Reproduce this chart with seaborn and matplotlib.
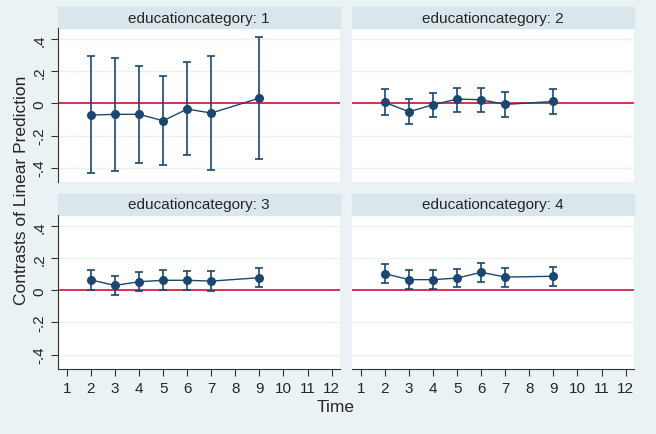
import seaborn as sns
import matplotlib.pyplot as plt
import matplotlib.patches as mpatches
import pandas as pd

# valores (contrastes e IC 95%)
times = [2, 3, 4, 5, 6, 7, 9]
categories = [1, 2, 3, 4]

est1 = [-0.073, -0.068, -0.068, -0.108, -0.035, -0.060, 0.033]
lo1 = [-0.435, -0.419, -0.369, -0.385, -0.323, -0.412, -0.348]
hi1 = [0.294, 0.284, 0.234, 0.172, 0.257, 0.294, 0.412]

est2 = [0.006, -0.052, -0.008, 0.027, 0.023, -0.006, 0.012]
lo2 = [-0.075, -0.131, -0.087, -0.052, -0.054, -0.087, -0.066]
hi2 = [0.087, 0.025, 0.068, 0.099, 0.097, 0.070, 0.089]

est3 = [0.065, 0.031, 0.054, 0.063, 0.063, 0.058, 0.079]
lo3 = [0.004, -0.031, -0.006, 0.004, 0.004, -0.004, 0.019]
hi3 = [0.127, 0.090, 0.117, 0.125, 0.123, 0.119, 0.140]

est4 = [0.104, 0.067, 0.067, 0.077, 0.113, 0.083, 0.088]
lo4 = [0.044, 0.006, 0.006, 0.019, 0.052, 0.023, 0.029]
hi4 = [0.167, 0.127, 0.127, 0.135, 0.171, 0.142, 0.146]

yticks = [-0.4, -0.2, 0, 0.2, 0.4]
ytick_labels = ['-.4', '-.2', '0', '.2', '.4']
xticks = list(range(1, 13))

navy = '#1A476F'
bg = '#EAF2F3'
strip = '#D9E6EB'
red = '#D0103A'

rows = []
for cat, est, lo, hi in zip(categories, [est1, est2, est3, est4],
                            [lo1, lo2, lo3, lo4], [hi1, hi2, hi3, hi4]):
    for t, e, l, h in zip(times, est, lo, hi):
        rows.append({'educationcategory': cat, 'Time': t, 'est': e, 'lo': l, 'hi': h})
df = pd.DataFrame(rows)

sns.set_style('white')
plt.rcParams['font.family'] = ['Liberation Sans', 'DejaVu Sans']


def marg(data, **kws):
    ax = plt.gca()
    ax.axhline(0, color=red, lw=1.2, zorder=1)
    ax.errorbar(data['Time'], data['est'],
                yerr=[data['est'] - data['lo'], data['hi'] - data['est']],
                fmt='none', ecolor=navy, elinewidth=1.2, capsize=3,
                capthick=1.2, zorder=2)
    sns.lineplot(data=data, x='Time', y='est', color=navy, lw=1, marker='o',
                 markersize=6.5, markeredgewidth=0, ax=ax, zorder=3)


g = sns.FacetGrid(df, col='educationcategory', col_wrap=2, sharex=True,
                  sharey=True, despine=False)
g.map_dataframe(marg)
g.figure.set_size_inches(6.56, 4.35)
g.figure.set_dpi(100)
g.figure.patch.set_facecolor(bg)
g.figure.subplots_adjust(left=0.0884, right=0.9665, top=0.9333,
                         bottom=0.1494, wspace=0.0426, hspace=0.214)

for i, ax in enumerate(g.axes.flat):
    ax.set_facecolor('white')
    ax.set_xlim(0.63, 12.35)
    ax.set_ylim(-0.49, 0.47)
    ax.set_title('')
    ax.set_xlabel('')
    ax.set_ylabel('')
    for yv in yticks:
        ax.axhline(yv, color=bg, lw=1, zorder=0)
    for s in ax.spines.values():
        s.set_visible(False)
    left = i % 2 == 0
    bottom = i >= 2
    ax.spines['left'].set_visible(left)
    ax.spines['bottom'].set_visible(bottom)
    ax.spines['left'].set_color('#333333')
    ax.spines['bottom'].set_color('#333333')
    ax.set_yticks(yticks)
    ax.set_xticks(xticks)
    ax.tick_params(axis='y', left=left, labelleft=left, length=5,
                   color='#333333', labelsize=11, labelrotation=90)
    ax.tick_params(axis='x', bottom=bottom, labelbottom=bottom, length=5,
                   color='#333333', labelsize=11)
    if left:
        ax.set_yticklabels(ytick_labels, va='center')
    ax.add_patch(mpatches.Rectangle((0, 1), 1, 21 / 154,
                                    transform=ax.transAxes, color=strip,
                                    clip_on=False, zorder=0))
    ax.text(0.5, 1 + 10.5 / 154, f'educationcategory: {categories[i]}',
            transform=ax.transAxes, ha='center', va='center', fontsize=11)
    ax.legend_ = None

g.figure.text(22 / 656, 1 - 190 / 435, 'Contrasts of Linear Prediction',
              rotation=90, ha='center', va='center', fontsize=12.5)
g.figure.text(336 / 656, 1 - 408 / 435, 'Time', ha='center', va='center',
              fontsize=12.5)

plt.savefig('out.png', dpi=100, facecolor=bg)
